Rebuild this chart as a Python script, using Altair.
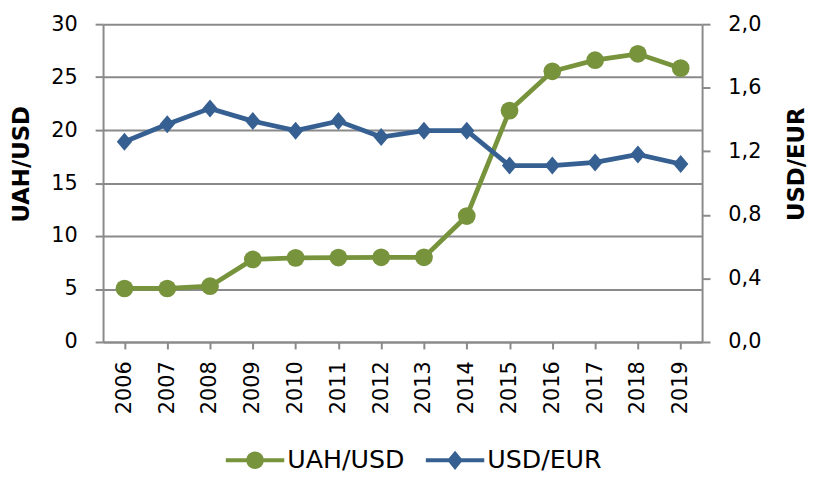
import altair as alt
import pandas as pd

years = [str(y) for y in range(2006, 2020)]
uah_usd = [5.05, 5.05, 5.27, 7.79, 7.94, 7.97, 7.99, 7.99, 11.89, 21.84, 25.55, 26.6, 27.2, 25.85]
usd_eur = [1.26, 1.37, 1.47, 1.39, 1.33, 1.39, 1.29, 1.33, 1.33, 1.11, 1.11, 1.13, 1.18, 1.12]
series_names = ["UAH/USD", "USD/EUR"]
colors = ["#77933C", "#376092"]
left_ticks = [0, 5, 10, 15, 20, 25, 30]
right_ticks = [0.0, 0.4, 0.8, 1.2, 1.6, 2.0]

df_g = pd.DataFrame({"year": years, "value": uah_usd, "series": series_names[0]})
df_b = pd.DataFrame({"year": years, "value": usd_eur, "series": series_names[1]})

FONT = "DejaVu Sans"
GRID = "#8a8a8a"

green_sym = "M-1,-0.07L1,-0.07L1,0.07L-1,0.07ZM0.3,0A0.3,0.3 0 1,1 -0.3,0A0.3,0.3 0 1,1 0.3,0Z"
blue_sym = "M-1,-0.07L1,-0.07L1,0.07L-1,0.07ZM0,-0.33L0.27,0L0,0.33L-0.27,0Z"
diamond = "M0,-1L0.85,0L0,1L-0.85,0Z"

x = alt.X("year:O", scale=alt.Scale(padding=0.5),
          axis=alt.Axis(title=None, labelAngle=-90, labelAlign="right", labelBaseline="middle",
                        tickSize=7, labelPadding=12, domain=True))

g_axis = alt.Axis(orient="left", values=left_ticks, grid=True, title="UAH/USD",
                  tickSize=8, labelPadding=18, titleX=-82, titleY=141, titleAngle=270,
                  titleAlign="center", titleBaseline="middle")
g_y = alt.Y("value:Q", scale=alt.Scale(domain=[0, 30], nice=False), axis=g_axis)

b_axis = alt.Axis(orient="right", values=right_ticks, grid=False, title="USD/EUR",
                  labelExpr="replace(format(datum.value, '.1f'), '.', ',')",
                  tickSize=8, labelPadding=18, titleX=95, titleY=141, titleAngle=270,
                  titleAlign="center", titleBaseline="middle")
b_y = alt.Y("value:Q", scale=alt.Scale(domain=[0, 2], nice=False), axis=b_axis)

leg_common = dict(title=None, orient="none", symbolSize=3481, symbolStrokeWidth=0,
                  symbolOpacity=1, labelFont="DejaVu Sans", labelFontSize=25.5,
                  labelColor="black", labelOffset=3, padding=0, legendY=411)

g_line = alt.Chart(df_g).mark_line(color=colors[0], strokeWidth=4.8).encode(x=x, y=g_y)
g_pts = alt.Chart(df_g).mark_point(filled=True, size=320, shape="circle", opacity=1).encode(
    x=x, y=g_y,
    color=alt.Color("series:N", scale=alt.Scale(domain=[series_names[0]], range=[colors[0]]),
                    legend=alt.Legend(symbolType=green_sym, legendX=124, **leg_common)))
green = alt.layer(g_line, g_pts)

b_line = alt.Chart(df_b).mark_line(color=colors[1], strokeWidth=4.8).encode(x=x, y=b_y)
b_pts = alt.Chart(df_b).mark_point(filled=True, size=330, shape=diamond, opacity=1).encode(
    x=x, y=b_y,
    color=alt.Color("series:N", scale=alt.Scale(domain=[series_names[1]], range=[colors[1]]),
                    legend=alt.Legend(symbolType=blue_sym, legendX=326, **leg_common)))
blue = alt.layer(b_line, b_pts)

chart = alt.layer(green, blue).resolve_scale(
    y="independent", color="independent"
).resolve_legend(color="independent").properties(
    width=605, height=321,
    autosize=alt.AutoSizeParams(type="none"),
    padding={"left": 96, "top": 14, "right": 110, "bottom": 132},
).configure_view(stroke=None).configure_axis(
    labelFont=FONT, labelFontSize=21, labelColor="black",
    titleFont=FONT, titleFontSize=23, titleFontWeight="bold", titleColor="black",
    domainColor=GRID, domainWidth=2, tickColor=GRID, tickWidth=2,
    gridColor=GRID, gridWidth=2, gridOpacity=1,
)

chart.save("out.html", embed_options={"renderer": "svg", "actions": False})
